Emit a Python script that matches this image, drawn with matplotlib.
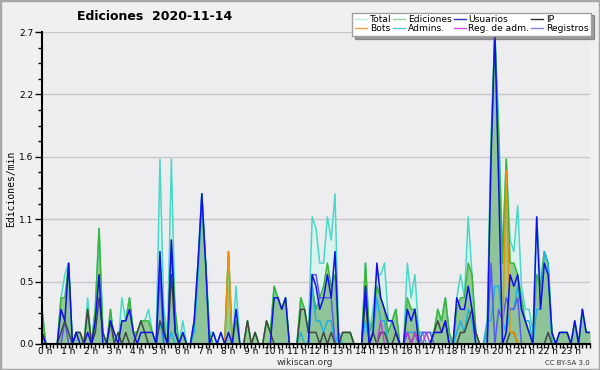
import matplotlib
matplotlib.use("Agg")
import matplotlib.pyplot as plt
import numpy as np
from matplotlib.patches import Rectangle
from matplotlib.transforms import ScaledTranslation

# edits per minute, 10-minute bins, one row per hour
total = [
    0.3, 0, 0, 0, 0, 0.4,          # 0 h
    0.6, 0.7, 0, 0.1, 0.1, 0,      # 1 h
    0.4, 0, 0.3, 1.0, 0.1, 0,      # 2 h
    0.3, 0, 0, 0.4, 0.2, 0.4,      # 3 h
    0.1, 0.1, 0.2, 0.2, 0.3, 0.1,  # 4 h
    0, 1.6, 0.3, 0.1, 1.6, 0.2,    # 5 h
    0, 0.2, 0, 0, 0.2, 0.7,        # 6 h
    1.3, 0.7, 0.1, 0.1, 0, 0.1,    # 7 h
    0, 0.8, 0, 0.5, 0, 0,          # 8 h
    0.2, 0, 0.1, 0, 0, 0.2,        # 9 h
    0.1, 0.5, 0.4, 0.3, 0.4, 0,    # 10 h
    0, 0, 0.4, 0.3, 0.1, 1.1,      # 11 h
    1.0, 0.7, 0.7, 1.1, 0.9, 1.3,  # 12 h
    0, 0.1, 0.1, 0.1, 0, 0,        # 13 h
    0, 0.7, 0.1, 0.3, 0.6, 0.6,    # 14 h
    0.7, 0.2, 0.2, 0.3, 0, 0,      # 15 h
    0.7, 0.4, 0.6, 0.1, 0.1, 0.1,  # 16 h
    0.1, 0.1, 0.3, 0.2, 0.4, 0.1,  # 17 h
    0, 0.4, 0.6, 0.4, 1.1, 0.6,    # 18 h
    0.1, 0, 0, 0.2, 1.8, 2.7,      # 19 h
    1.9, 0.8, 1.6, 0.9, 0.8, 1.2,  # 20 h
    0.5, 0.3, 0.3, 0.1, 1.1, 0.5,  # 21 h
    0.8, 0.7, 0.1, 0, 0.1, 0.1,    # 22 h
    0.1, 0, 0.2, 0, 0.3, 0.1,      # 23 h
]
ediciones = [
    0.3, 0, 0, 0, 0, 0.4,
    0.4, 0.7, 0, 0.1, 0.1, 0,
    0.3, 0, 0.3, 1.0, 0.1, 0,
    0.3, 0, 0, 0.2, 0.2, 0.4,
    0.1, 0.1, 0.2, 0.2, 0.2, 0.1,
    0, 0.7, 0.2, 0, 0.9, 0.3,
    0, 0.1, 0, 0, 0.2, 0.7,
    1.2, 0.7, 0.1, 0, 0, 0,
    0, 0.8, 0, 0.2, 0, 0,
    0.2, 0, 0.1, 0, 0, 0.2,
    0.1, 0.5, 0.4, 0.3, 0.4, 0,
    0, 0, 0.4, 0.3, 0.1, 0.5,
    0.3, 0.4, 0.5, 0.7, 0.5, 0.6,
    0, 0.1, 0.1, 0.1, 0, 0,
    0, 0.7, 0.1, 0.2, 0.5, 0.4,
    0.3, 0.1, 0.2, 0.3, 0, 0,
    0.4, 0.3, 0.3, 0.1, 0, 0,
    0, 0.1, 0.3, 0.2, 0.4, 0.1,
    0, 0.3, 0.4, 0.4, 0.7, 0.6,
    0.1, 0, 0, 0.1, 1.7, 2.7,
    1.8, 0.7, 1.6, 0.7, 0.7, 0.6,
    0.4, 0.2, 0.1, 0, 0.6, 0.5,
    0.8, 0.7, 0.1, 0, 0.1, 0.1,
    0.1, 0, 0.2, 0, 0.3, 0.1,
]
usuarios = [
    0.1, 0, 0, 0, 0, 0.3,
    0.2, 0.7, 0, 0.1, 0, 0,
    0.1, 0, 0.2, 0.6, 0, 0,
    0.2, 0.1, 0, 0.2, 0.2, 0.3,
    0.1, 0, 0.1, 0.1, 0.1, 0.1,
    0, 0.8, 0.1, 0, 0.9, 0.1,
    0, 0.1, 0, 0, 0.2, 0.7,
    1.3, 0.7, 0, 0.1, 0, 0.1,
    0, 0.1, 0, 0.3, 0, 0,
    0, 0, 0, 0, 0, 0,
    0, 0.4, 0.4, 0.3, 0.4, 0,
    0, 0, 0, 0, 0, 0.6,
    0.5, 0.3, 0.4, 0.6, 0.4, 0.8,
    0, 0, 0, 0, 0, 0,
    0, 0.5, 0, 0.1, 0.7, 0.4,
    0.3, 0.2, 0.2, 0.1, 0, 0,
    0.3, 0.2, 0.3, 0, 0, 0,
    0, 0.1, 0.1, 0.1, 0.2, 0,
    0, 0.4, 0.3, 0.3, 0.5, 0.3,
    0, 0, 0, 0, 1.6, 2.7,
    1.4, 0, 0.1, 0.6, 0.5, 0.6,
    0.3, 0.2, 0.1, 0, 1.1, 0.3,
    0.7, 0.6, 0.1, 0, 0.1, 0.1,
    0.1, 0, 0.2, 0, 0.3, 0.1,
]
ip = [
    0.1, 0, 0, 0, 0, 0.1,
    0.2, 0.1, 0, 0.1, 0.1, 0,
    0.3, 0, 0.1, 0.4, 0.1, 0,
    0.2, 0, 0.1, 0, 0.1, 0,
    0, 0.1, 0.2, 0.1, 0, 0,
    0, 0.2, 0.1, 0, 0.6, 0.1,
    0, 0, 0, 0, 0, 0,
    0, 0, 0, 0, 0, 0,
    0, 0, 0, 0, 0, 0,
    0.2, 0, 0.1, 0, 0, 0.2,
    0.1, 0, 0, 0, 0, 0,
    0, 0, 0.3, 0.3, 0.1, 0.1,
    0.1, 0, 0.1, 0, 0.1, 0,
    0, 0.1, 0.1, 0.1, 0, 0,
    0, 0.4, 0, 0.1, 0, 0.1,
    0.1, 0, 0, 0.1, 0, 0,
    0.1, 0, 0.1, 0, 0, 0,
    0, 0.1, 0.2, 0.1, 0.2, 0,
    0, 0, 0.1, 0.1, 0.2, 0.3,
    0.1, 0, 0, 0, 0, 0,
    0, 0, 0, 0.1, 0.1, 0,
    0, 0, 0, 0, 0, 0,
    0, 0.1, 0, 0, 0, 0,
    0, 0, 0, 0, 0, 0,
]
bots = [0] * 144
bots[49] = 0.8
bots[122] = 1.5
bots[123] = 0.1
bots[124] = 0.1
admins = [
    0, 0, 0, 0, 0, 0,
    0, 0, 0, 0, 0, 0,
    0, 0, 0, 0, 0, 0,
    0, 0, 0, 0, 0, 0,
    0, 0, 0, 0, 0, 0,
    0, 0.2, 0, 0, 0.1, 0,
    0, 0, 0, 0, 0.1, 0.6,
    1.3, 0.7, 0, 0, 0, 0,
    0, 0, 0, 0, 0, 0,
    0, 0, 0, 0, 0, 0,
    0, 0, 0, 0, 0, 0,
    0, 0, 0.1, 0, 0, 0.5,
    0.2, 0.2, 0.1, 0.2, 0.2, 0,
    0.1, 0, 0, 0, 0, 0,
    0, 0.2, 0, 0.1, 0.4, 0.2,
    0.2, 0, 0, 0, 0, 0,
    0.1, 0.1, 0.1, 0.1, 0.1, 0,
    0, 0, 0, 0, 0, 0,
    0, 0.1, 0.2, 0.1, 0.3, 0.2,
    0, 0, 0, 0.2, 0.2, 0.5,
    0.5, 0.2, 0.1, 0.3, 0.3, 0.5,
    0.3, 0.2, 0.2, 0, 0.3, 0.3,
    0.8, 0.7, 0, 0, 0, 0,
    0, 0, 0, 0, 0, 0,
]
reg_adm = [0] * 144
reg_adm[89] = 0.2
reg_adm[96] = 0.1
reg_adm[98] = 0.1
reg_adm[101] = 0.1
registros = [0] * 144
registros[6] = 0.2
registros[31] = 0.6
registros[71:77] = [0.6, 0.6, 0.4, 0.4, 0.4, 0.4]
registros[100:103] = [0.1, 0.1, 0.1]
registros[118] = 0.7
registros[120:126] = [0.3, 0.2, 0.4, 0.3, 0.3, 0.4]

hour_labels = ["%d h" % h for h in range(24)]


def ext(v):
    # repeat the last bin so the curve reaches 24 h
    return np.append(v, v[-1])


x = np.arange(145) / 6.0

fig = plt.figure(figsize=(6, 3.7), dpi=100, facecolor="#f0f0f0")
ax = fig.add_axes([0.07, 0.0703, 0.9133, 0.8432])
ax.set_facecolor("#ededf0")

ax.fill_between(x, ext(total), color="#dcf2ee", lw=0)
ax.fill_between(x, ext(ediciones), color="#94cb94", lw=0)
ax.fill_between(x, ext(usuarios), color="#4060e0", alpha=0.06, lw=0)

ax.plot(x, ext(total), color="#48d8c8", lw=1.1)
ax.plot(x, ext(ediciones), color="#3cb43c", lw=1.1)
ax.plot(x, ext(admins), color="#20b4e0", lw=1.1)
ax.plot(x, ext(registros), color="#5a5af0", lw=1.1)
ax.plot(x, ext(ip), color="#404840", lw=1.1)
ax.plot(x, ext(reg_adm), color="#c040e0", lw=1.1)
ax.plot(x, ext(bots), color="#f09000", lw=1.1)
ax.plot(x, ext(usuarios), color="#1010e8", lw=1.1)

ax.set_xlim(0, 24)
ax.set_ylim(0, 2.7)
yt = np.linspace(0, 2.7, 6)
ax.set_yticks(yt)
ax.set_yticklabels(["%.1f" % v for v in yt])
ax.set_yticks(np.linspace(0, 2.7, 21), minor=True)
ax.set_xticks(np.arange(24))
ax.set_xticklabels(hour_labels)
ax.set_xticks(np.arange(145) / 6.0, minor=True)
ax.grid(axis="y", color="#c8c8c8", lw=1)
ax.set_axisbelow(True)

for s in ["top", "right"]:
    ax.spines[s].set_visible(False)
for s in ["left", "bottom"]:
    ax.spines[s].set_linewidth(1.5)
ax.tick_params(axis="y", which="major", length=5, width=1, labelsize=6.5, pad=1)
ax.tick_params(axis="y", which="minor", length=3, width=1)
ax.tick_params(axis="x", which="both", length=3, width=1, labelsize=6.5, pad=0)
for lab in ax.get_xticklabels():
    lab.set_transform(lab.get_transform() + ScaledTranslation(0.035, 0.01, fig.dpi_scale_trans))

# legend
names = ["Total", "Bots", "Ediciones", "Admins.", "Usuarios", "Reg. de adm.", "IP", "Registros"]
colors = ["#b0ece4", "#f0a040", "#90d890", "#50c8e0", "#3030c8", "#d050e0", "#303030", "#8080f0"]
handles = [plt.Line2D([], [], color=c, lw=1) for c in colors]
leg = fig.legend(handles, names, ncol=4, loc="upper right", bbox_to_anchor=(0.985, 0.966),
                 fontsize=6.6, frameon=True, fancybox=False, shadow=True, handlelength=1.3,
                 handletextpad=0.3, columnspacing=0.2, labelspacing=0.0, borderpad=0.3,
                 borderaxespad=0)
leg.get_frame().set_edgecolor("#a0a0a0")
leg.get_frame().set_linewidth(1)

fig.text(0.257, 0.955, "Ediciones  2020-11-14", ha="center", va="center",
         fontsize=9, fontweight="bold")
fig.text(0.018, 0.49, "Ediciones/min", rotation=90, ha="center", va="center",
         fontsize=7, family="DejaVu Sans Mono")
fig.text(0.508, 0.019, "wikiscan.org", ha="center", va="center", fontsize=6.5, color="#333333")
fig.text(0.983, 0.02, "CC BY-SA 3.0", ha="right", va="center", fontsize=5, color="#333333")

fig.patches.append(Rectangle((0, 0), 1, 1, transform=fig.transFigure, fill=False,
                             edgecolor="#a8a8a8", lw=2.5))

fig.savefig("out.png", dpi=100, facecolor=fig.get_facecolor())
